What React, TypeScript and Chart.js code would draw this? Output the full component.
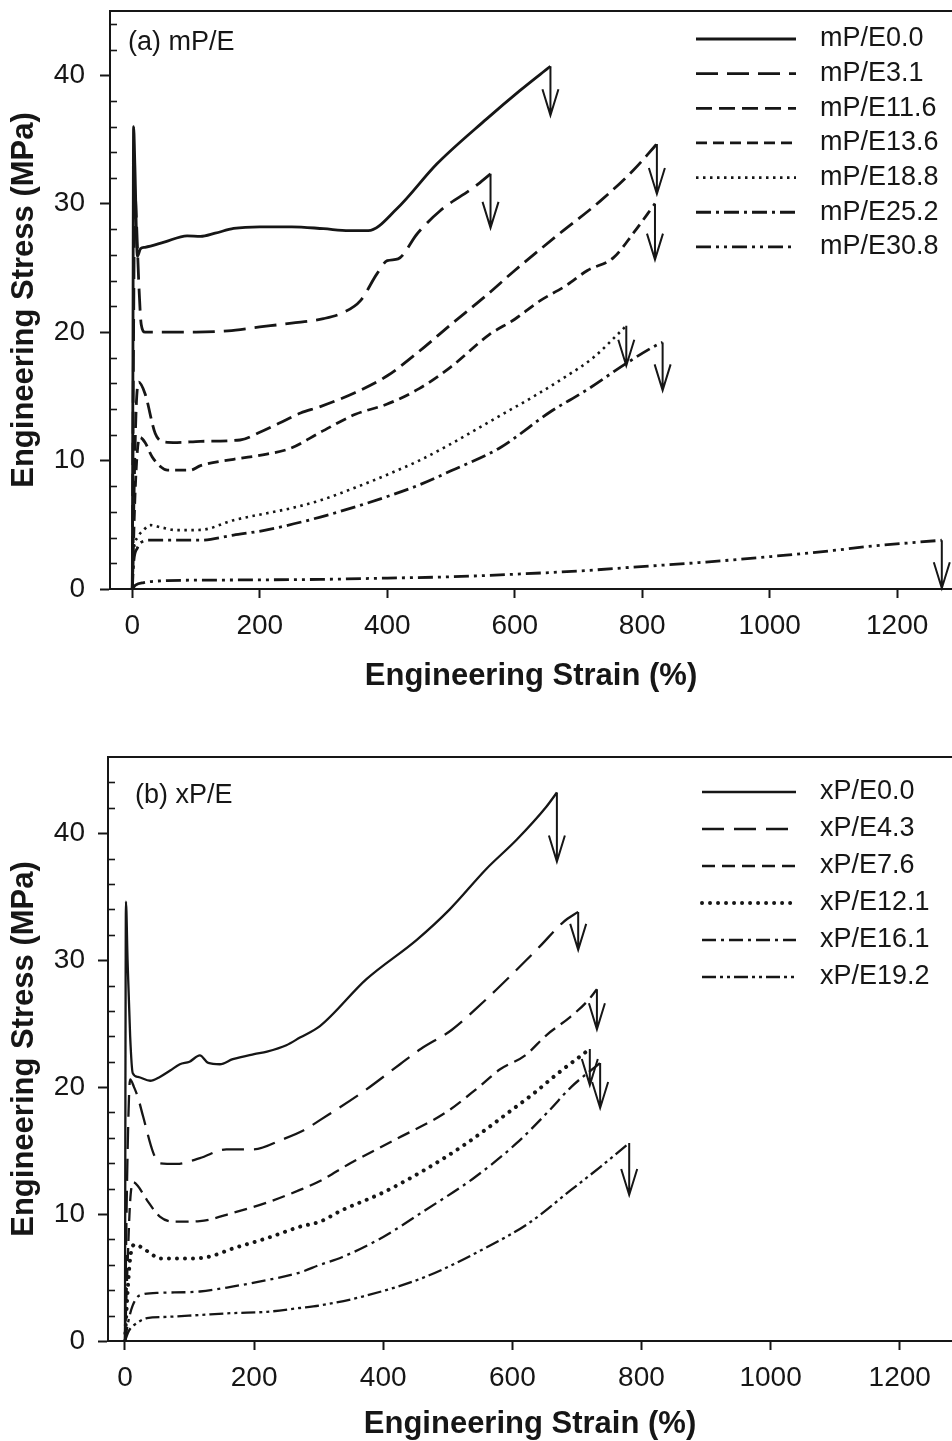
import React, { useEffect, useRef } from 'react';
import { Chart, registerables } from 'chart.js';

Chart.register(...registerables);

const INK = '#161616';
const FONT = "'Liberation Sans', Arial, Helvetica, sans-serif";

// ---------------- Panel (a) mP/E ----------------
const A_LABELS = ['mP/E0.0', 'mP/E3.1', 'mP/E11.6', 'mP/E13.6', 'mP/E18.8', 'mP/E25.2', 'mP/E30.8'];

const A_E00_X = [0, 1, 2, 4, 8, 13, 20, 50, 86, 107, 130, 159, 200, 250, 300, 340, 370, 415, 478, 556, 608, 656];
const A_E00_Y = [0, 18, 36.0, 33, 25.9, 26.5, 26.6, 27.0, 27.5, 27.45, 27.7, 28.07, 28.2, 28.2, 28.05, 27.9, 27.9, 29.6, 33.1, 36.6, 38.8, 40.7];

const A_E03_X = [0, 2, 4, 7, 10, 14, 20, 60, 100, 150, 200, 250, 300, 330, 358, 384, 400, 417, 447, 483, 535, 562];
const A_E03_Y = [0, 20, 31, 28, 24, 20.6, 20.0, 20.0, 20.0, 20.1, 20.4, 20.7, 21.05, 21.5, 22.45, 24.55, 25.56, 25.7, 27.66, 29.45, 31.24, 32.32];

const A_E11_X = [0, 3, 6, 10, 20, 36, 49, 70, 107, 169, 200, 230, 264, 295, 350, 400, 450, 500, 554, 600, 666, 734, 786, 823];
const A_E11_Y = [0, 8, 14, 16.1, 15.2, 12.1, 11.45, 11.4, 11.5, 11.6, 12.2, 12.9, 13.7, 14.2, 15.3, 16.6, 18.5, 20.6, 22.8, 24.8, 27.5, 30.2, 32.6, 34.65];

const A_E13_X = [0, 4, 8, 12, 20, 31, 45, 55, 91, 107, 159, 211, 248, 295, 350, 400, 450, 500, 560, 600, 640, 680, 714, 755, 786, 820];
const A_E13_Y = [0, 7, 10.8, 11.8, 11.4, 10.3, 9.5, 9.25, 9.25, 9.6, 10.1, 10.5, 10.95, 12.2, 13.6, 14.4, 15.6, 17.3, 19.8, 21.0, 22.45, 23.6, 24.8, 25.8, 27.7, 30.0];

const A_E18_X = [0, 2, 8, 18, 28, 45, 70, 107, 159, 211, 250, 295, 350, 400, 450, 500, 577, 630, 682, 723, 765, 775];
const A_E18_Y = [0, 2.8, 4.0, 4.6, 4.97, 4.8, 4.58, 4.6, 5.36, 5.9, 6.3, 6.9, 7.9, 8.9, 10.0, 11.3, 13.5, 15.0, 16.6, 18.0, 20.0, 20.5];

const A_E25_X = [0, 2, 8, 13, 28, 60, 107, 159, 211, 295, 350, 400, 450, 500, 577, 656, 713, 776, 823, 832];
const A_E25_Y = [0, 2.0, 3.2, 3.6, 3.8, 3.8, 3.8, 4.2, 4.6, 5.6, 6.4, 7.2, 8.1, 9.2, 11.0, 13.8, 15.5, 17.6, 19.0, 19.2];

const A_E30_X = [0, 5, 18, 55, 150, 295, 400, 500, 577, 700, 786, 900, 996, 1100, 1153, 1270];
const A_E30_Y = [0, 0.3, 0.5, 0.65, 0.7, 0.75, 0.85, 0.95, 1.1, 1.4, 1.7, 2.1, 2.5, 3.0, 3.3, 3.8];

const A_X_TICKS = [0, 200, 400, 600, 800, 1000, 1200];
const A_Y_TICKS = [0, 10, 20, 30, 40];

// ---------------- Panel (b) xP/E ----------------
const B_LABELS = ['xP/E0.0', 'xP/E4.3', 'xP/E7.6', 'xP/E12.1', 'xP/E16.1', 'xP/E19.2'];

const B_E00_X = [0, 0.5, 1.5, 4, 8, 12, 20, 39, 54, 70, 85, 100, 116, 129, 147, 167, 200, 220, 250, 271, 302, 374, 452, 503, 560, 607, 653, 669];
const B_E00_Y = [0, 15, 34.6, 30, 24, 21.1, 20.8, 20.5, 20.8, 21.3, 21.8, 22.0, 22.5, 21.9, 21.8, 22.2, 22.6, 22.8, 23.3, 23.9, 24.8, 28.5, 31.6, 34.0, 37.2, 39.5, 42.1, 43.2];

const B_E04_X = [0, 3, 8, 14, 20, 28, 44, 54, 80, 116, 157, 199, 245, 277, 302, 368, 426, 458, 506, 555, 596, 643, 679, 702];
const B_E04_Y = [0, 12, 20.6, 20.0, 19.2, 17.7, 14.8, 14.0, 13.95, 14.4, 15.1, 15.1, 15.9, 16.6, 17.4, 19.6, 21.8, 23.0, 24.5, 26.7, 28.7, 31.1, 33.0, 33.8];

const B_E07_X = [0, 4, 8, 13, 20, 34, 54, 75, 116, 168, 220, 271, 302, 349, 420, 497, 548, 581, 620, 653, 689, 715, 731];
const B_E07_Y = [0, 6, 11, 12.5, 12.2, 11.1, 9.8, 9.4, 9.45, 10.1, 10.9, 11.9, 12.6, 14.0, 15.9, 18.0, 20.0, 21.4, 22.5, 24.1, 25.5, 26.7, 27.7];

const B_E12_X = [0, 3, 8, 15, 28, 41, 54, 96, 127, 168, 220, 271, 302, 336, 400, 465, 530, 594, 633, 671, 720];
const B_E12_Y = [0, 3, 6.5, 7.6, 7.3, 6.85, 6.5, 6.5, 6.6, 7.3, 8.1, 9.0, 9.4, 10.3, 11.7, 13.5, 15.6, 18.0, 19.5, 21.1, 23.0];

const B_E16_X = [0, 5, 12, 23, 54, 116, 168, 220, 271, 302, 336, 400, 465, 542, 607, 658, 691, 736];
const B_E16_Y = [0, 1.5, 2.8, 3.6, 3.8, 3.9, 4.3, 4.8, 5.4, 6.0, 6.6, 8.2, 10.3, 12.9, 15.6, 18.2, 20.0, 21.9];

const B_E19_X = [0, 6, 18, 34, 65, 116, 168, 220, 271, 302, 368, 465, 561, 626, 691, 736, 781];
const B_E19_Y = [0, 0.8, 1.4, 1.8, 1.9, 2.05, 2.2, 2.3, 2.6, 2.8, 3.5, 5.05, 7.4, 9.3, 11.9, 13.7, 15.6];

const B_X_TICKS = [0, 200, 400, 600, 800, 1000, 1200];
const B_Y_TICKS = [0, 10, 20, 30, 40];

// ---------------- styles ----------------
const A_DASH = [[], [22, 9], [16, 7], [11, 6], [2.5, 4.5], [15, 5, 3, 5], [15, 5, 3, 5, 3, 5]];
const B_DASH = [[], [22, 10], [13, 7], [0.01, 8], [14, 5, 3, 5], [14, 4, 3, 4, 3, 4]];
const A_WIDTH = [2.8, 2.8, 2.8, 2.8, 2.6, 2.8, 2.8];
const B_WIDTH = [2.3, 2.3, 2.3, 4, 2.3, 2.3];
const B_CAP = ['butt', 'butt', 'butt', 'round', 'butt', 'butt'];
const A_ARROW = [49, 54, 50, 56, 40, 48, 48];
const B_ARROW = [69, 38, 40, 36, 45, 52];

type Panel = {
  labels: string[];
  xs: number[][];
  ys: number[][];
  dash: number[][];
  width: number[];
  cap: string[];
  arrow: number[];
  xMin: number;
  xMax: number;
  yMax: number;
  xTicks: number[];
  yTicks: number[];
  canvasH: number;
  padTop: number;
  yAxisW: number;
  plotBottom: number;
  xTitlePad: number;
  tickPadY: number;
  legend: { x0: number; x1: number; tx: number; y0: number; dy: number };
  tag: { text: string; x: number; y: number };
};

const PANEL_A: Panel = {
  labels: A_LABELS,
  xs: [A_E00_X, A_E03_X, A_E11_X, A_E13_X, A_E18_X, A_E25_X, A_E30_X],
  ys: [A_E00_Y, A_E03_Y, A_E11_Y, A_E13_Y, A_E18_Y, A_E25_Y, A_E30_Y],
  dash: A_DASH,
  width: A_WIDTH,
  cap: A_DASH.map(() => 'butt'),
  arrow: A_ARROW,
  xMin: -35,
  xMax: 1286,
  yMax: 45,
  xTicks: A_X_TICKS,
  yTicks: A_Y_TICKS,
  canvasH: 720,
  padTop: 11,
  yAxisW: 110,
  plotBottom: 589,
  xTitlePad: 28,
  tickPadY: 15,
  legend: { x0: 696, x1: 796, tx: 820, y0: 39, dy: 34.65 },
  tag: { text: '(a) mP/E', x: 128, y: 43 },
};

const PANEL_B: Panel = {
  labels: B_LABELS,
  xs: [B_E00_X, B_E04_X, B_E07_X, B_E12_X, B_E16_X, B_E19_X],
  ys: [B_E00_Y, B_E04_Y, B_E07_Y, B_E12_Y, B_E16_Y, B_E19_Y],
  dash: B_DASH,
  width: B_WIDTH,
  cap: B_CAP,
  arrow: B_ARROW,
  xMin: -26.3,
  xMax: 1281,
  yMax: 46,
  xTicks: B_X_TICKS,
  yTicks: B_Y_TICKS,
  canvasH: 721,
  padTop: 37,
  yAxisW: 108,
  plotBottom: 621,
  xTitlePad: 1.5,
  tickPadY: 13,
  legend: { x0: 702, x1: 796, tx: 820, y0: 72, dy: 37 },
  tag: { text: '(b) xP/E', x: 135, y: 76 },
};

const overlayPlugin = {
  id: 'overlay',
  afterDatasetsDraw(chart: any, _args: any, o: any) {
    const { ctx, chartArea, scales } = chart;
    const xs = scales.x;
    const ys = scales.y;
    ctx.save();
    // minor ticks on y axis
    ctx.strokeStyle = INK;
    ctx.lineWidth = 1.6;
    ctx.setLineDash([]);
    for (let v = 2; v < o.yMax; v += 2) {
      if (v % 10 === 0) continue;
      const py = Math.round(ys.getPixelForValue(v)) + 0.5;
      ctx.beginPath();
      ctx.moveTo(chartArea.left - 1, py);
      ctx.lineTo(chartArea.left + 7, py);
      ctx.stroke();
    }
    // break arrows at the end of each curve
    ctx.lineWidth = 2;
    ctx.lineCap = 'butt';
    ctx.lineJoin = 'miter';
    chart.data.datasets.forEach((ds: any, i: number) => {
      const last = ds.data[ds.data.length - 1];
      const px = xs.getPixelForValue(last.x);
      const py = ys.getPixelForValue(last.y);
      const tip = py + o.arrow[i];
      ctx.beginPath();
      ctx.moveTo(px, py);
      ctx.lineTo(px, tip);
      ctx.moveTo(px - 8, tip - 26);
      ctx.lineTo(px, tip);
      ctx.lineTo(px + 8, tip - 26);
      ctx.stroke();
    });
    // legend
    const lg = o.legend;
    ctx.font = `27px ${FONT}`;
    ctx.fillStyle = INK;
    ctx.textBaseline = 'middle';
    ctx.textAlign = 'left';
    chart.data.datasets.forEach((ds: any, i: number) => {
      const y = lg.y0 + i * lg.dy;
      ctx.save();
      ctx.strokeStyle = ds.borderColor;
      ctx.lineWidth = ds.borderWidth;
      ctx.lineCap = ds.borderCapStyle;
      ctx.setLineDash(ds.borderDash || []);
      ctx.beginPath();
      ctx.moveTo(lg.x0, y);
      ctx.lineTo(lg.x1, y);
      ctx.stroke();
      ctx.restore();
      ctx.fillText(ds.label, lg.tx, y);
    });
    // panel tag
    ctx.font = `27px ${FONT}`;
    ctx.fillText(o.tag.text, o.tag.x, o.tag.y);
    ctx.restore();
  },
};

function buildConfig(p: Panel): any {
  const datasets = p.labels.map((label, i) => ({
    label,
    data: p.xs[i].map((x, j) => ({ x, y: p.ys[i][j] })),
    borderColor: INK,
    backgroundColor: INK,
    borderWidth: p.width[i],
    borderDash: p.dash[i],
    borderCapStyle: p.cap[i],
    borderJoinStyle: 'round',
    pointRadius: 0,
    pointHoverRadius: 0,
    fill: false,
    cubicInterpolationMode: 'monotone',
  }));
  const tickFont = { family: FONT, size: 28 };
  const titleFont = { family: FONT, size: 31, weight: 'bold' as const, lineHeight: 1 };
  return {
    type: 'line',
    data: { datasets },
    plugins: [overlayPlugin],
    options: {
      responsive: false,
      maintainAspectRatio: false,
      animation: false,
      events: [],
      layout: { padding: { top: p.padTop, right: 0, bottom: 0, left: 0 } },
      plugins: {
        legend: { display: false },
        tooltip: { enabled: false },
        title: { display: false },
        overlay: { yMax: p.yMax, arrow: p.arrow, legend: p.legend, tag: p.tag },
      },
      scales: {
        x: {
          type: 'linear',
          position: 'bottom',
          min: p.xMin,
          max: p.xMax,
          afterBuildTicks: (s: any) => {
            s.ticks = p.xTicks.map((v) => ({ value: v }));
          },
          afterFit: (s: any) => {
            s.height = p.canvasH - p.plotBottom;
            s.paddingLeft = 0;
            s.paddingRight = 0;
          },
          ticks: {
            font: tickFont,
            color: INK,
            padding: 11,
            maxRotation: 0,
            autoSkip: false,
            callback: (v: any) => String(v),
          },
          grid: { display: true, drawOnChartArea: false, drawTicks: true, tickLength: 9, tickWidth: 2, tickColor: INK },
          border: { display: true, color: INK, width: 2 },
          title: {
            display: true,
            text: 'Engineering Strain (%)',
            font: titleFont,
            color: INK,
            padding: { top: 0, bottom: p.xTitlePad },
          },
        },
        x2: {
          type: 'linear',
          position: 'top',
          min: p.xMin,
          max: p.xMax,
          afterFit: (s: any) => {
            s.height = 0;
            s.paddingLeft = 0;
            s.paddingRight = 0;
          },
          ticks: { display: false },
          grid: { display: false },
          border: { display: true, color: INK, width: 2 },
        },
        y: {
          type: 'linear',
          position: 'left',
          min: 0,
          max: p.yMax,
          afterBuildTicks: (s: any) => {
            s.ticks = p.yTicks.map((v) => ({ value: v }));
          },
          afterFit: (s: any) => {
            s.width = p.yAxisW;
            s.paddingTop = 0;
            s.paddingBottom = 0;
          },
          ticks: {
            font: tickFont,
            color: INK,
            padding: p.tickPadY,
            autoSkip: false,
            callback: (v: any) => String(v),
          },
          grid: { display: true, drawOnChartArea: false, drawTicks: true, tickLength: 10, tickWidth: 2, tickColor: INK },
          border: { display: true, color: INK, width: 2 },
          title: {
            display: true,
            text: 'Engineering Stress (MPa)',
            font: titleFont,
            color: INK,
            padding: { top: 9, bottom: 0 },
          },
        },
      },
    },
  };
}

function PanelChart({ panel, top }: { panel: Panel; top: number }) {
  const ref = useRef<HTMLCanvasElement | null>(null);
  useEffect(() => {
    if (!ref.current) return;
    const chart = new Chart(ref.current, buildConfig(panel));
    return () => chart.destroy();
  }, [panel]);
  return (
    <canvas
      ref={ref}
      width={952}
      height={panel.canvasH}
      style={{ position: 'absolute', left: 0, top, width: 952, height: panel.canvasH, display: 'block' }}
    />
  );
}

export default function App() {
  return (
    <div
      style={{
        position: 'absolute',
        left: 0,
        top: 0,
        width: 952,
        height: 1441,
        overflow: 'hidden',
        background: '#ffffff',
      }}
    >
      <PanelChart panel={PANEL_A} top={0} />
      <PanelChart panel={PANEL_B} top={720} />
    </div>
  );
}
